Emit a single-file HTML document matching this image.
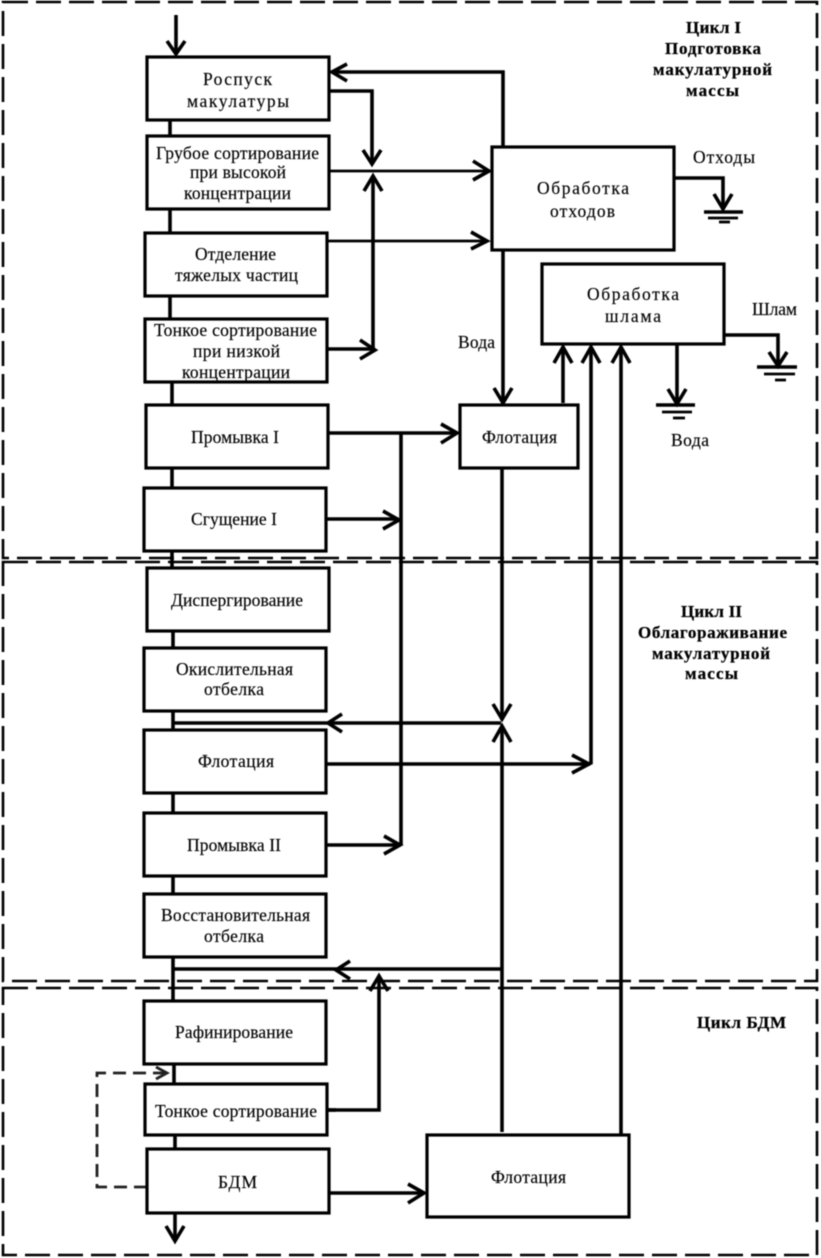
<!DOCTYPE html>
<html lang="ru">
<head>
<meta charset="utf-8">
<title>Схема</title>
<style>
html,body{margin:0;padding:0;background:#fff}
svg{display:block;filter:blur(.45px)}
text{font-family:"Liberation Serif","DejaVu Serif",serif;font-size:17.5px;fill:#000;stroke:#000;stroke-width:.15}
.b{font-weight:bold;fill:#000;font-size:17px;stroke-width:.25}
.box{fill:#fff;stroke:#000;stroke-width:3.2}
.l{fill:none;stroke:#000;stroke-width:3.6}
.t{fill:none;stroke:#000;stroke-width:2.8}
.h{fill:none;stroke:#000;stroke-width:3.6}
.f{fill:none;stroke:#000;stroke-width:2.6;stroke-dasharray:25 8}
.d{fill:none;stroke:#222;stroke-width:2.8;stroke-dasharray:13 7}
</style>
</head>
<body>
<svg width="821" height="1258" viewBox="0 0 821 1258" xmlns="http://www.w3.org/2000/svg">
<rect width="821" height="1258" fill="#fff"/>

<!-- dashed frames -->
<path class="f" d="M3 2H817V558H3Z"/>
<path class="f" d="M3 562H817V981H3Z"/>
<path class="f" d="M3 988H817V1255H3Z"/>

<!-- main vertical line -->
<path class="l" d="M170 118V138M170 207V235M170 294V321M172 380V407M172 466V489M172 549V570M173 629V650M173 709V732M173 791V815M173 874V896M173 955V1003M174 1062V1086M175 1133V1151"/>

<!-- connectors -->
<path class="l" d="M176 15V54"/>
<path class="h" d="M167 41L176 54L185 41"/>

<path class="l" d="M503 147V72H333"/>
<path class="h" d="M347 64L332 72L347 81"/>

<path class="l" d="M329 91H372V163"/>
<path class="h" d="M363 150L372 164L381 150"/>
<path class="t" d="M329 171H488"/>
<path class="h" d="M473 161L489 171L473 180"/>
<path class="l" d="M373 178V349"/>
<path class="h" d="M364 191L373 176L382 191"/>
<path class="l" d="M327 349H375"/>
<path class="h" d="M360 340L375 350L360 359"/>
<path class="t" d="M327 241H486"/>
<path class="h" d="M471 232L487 241L471 249"/>

<path class="l" d="M674 178H723V209"/>
<path class="h" d="M714 194L723 209L732 194"/>
<path class="l" d="M704 212H743"/>
<path class="t" d="M708 218H738"/>
<path class="t" d="M719 222H730"/>

<path class="l" d="M503 250V402"/>
<path class="h" d="M494 388L503 403L512 388"/>

<path class="l" d="M563 403V348"/>
<path class="h" d="M554 363L563 347L572 363"/>
<path class="l" d="M591 764V348"/>
<path class="h" d="M582 363L591 347L600 363"/>
<path class="l" d="M621 1135V348"/>
<path class="h" d="M612 363L621 347L630 363"/>

<path class="l" d="M725 335H778V364"/>
<path class="h" d="M769 352L778 366L787 352"/>
<path class="l" d="M757 367H797"/>
<path class="t" d="M764 374H795"/>
<path class="t" d="M775 380H786"/>

<path class="l" d="M677 344V403"/>
<path class="h" d="M668 389L677 404L686 389"/>
<path class="l" d="M656 405H695"/>
<path class="t" d="M662 412H692"/>
<path class="t" d="M673 418H685"/>

<path class="l" d="M328 433H456"/>
<path class="h" d="M441 424L457 433L441 443"/>
<path class="l" d="M401 433V845"/>
<path class="l" d="M326 519H398"/>
<path class="h" d="M383 511L399 520L383 529"/>
<path class="l" d="M326 845H399"/>
<path class="h" d="M384 836L400 845L384 854"/>

<path class="l" d="M502 468V720"/>
<path class="h" d="M493 704L502 719L511 704"/>
<path class="l" d="M502 1132V726"/>
<path class="h" d="M493 742L502 726L511 742"/>
<path class="l" d="M501 723H174"/>
<path class="h" d="M342 714L328 723L342 732"/>
<path class="l" d="M326 764H590"/>
<path class="h" d="M572 755L589 764L572 773"/>

<path class="l" d="M502 969H174"/>
<path class="h" d="M350 961L336 970L350 979"/>
<path class="l" d="M327 1110H379V978"/>
<path class="h" d="M370 991L379 976L388 991"/>
<path class="l" d="M329 1193H424"/>
<path class="h" d="M408 1184L424 1193L408 1203"/>
<path class="l" d="M175 1213V1240"/>
<path class="h" d="M166 1226L175 1241L184 1226"/>

<!-- dashed feedback -->
<path class="d" d="M147 1187H97V1073H166"/>
<path class="t" style="stroke:#222" d="M156 1067L167 1073L156 1079"/>

<!-- boxes -->
<rect class="box" x="147" y="57" width="182" height="63"/>
<rect class="box" x="147" y="136" width="182" height="73"/>
<rect class="box" x="145" y="233" width="182" height="63"/>
<rect class="box" x="145" y="319" width="182" height="63"/>
<rect class="box" x="146" y="405" width="182" height="63"/>
<rect class="box" x="144" y="488" width="182" height="63"/>
<rect class="box" x="147" y="568" width="182" height="63"/>
<rect class="box" x="144" y="648" width="182" height="63"/>
<rect class="box" x="144" y="730" width="182" height="63"/>
<rect class="box" x="144" y="813" width="182" height="63"/>
<rect class="box" x="144" y="894" width="182" height="63"/>
<rect class="box" x="144" y="1001" width="182" height="63"/>
<rect class="box" x="145" y="1084" width="182" height="51"/>
<rect class="box" x="147" y="1149" width="182" height="64"/>
<rect class="box" x="427" y="1135" width="202" height="82"/>
<rect class="box" x="492" y="147" width="182" height="103"/>
<rect class="box" x="542" y="264" width="182" height="80"/>
<rect class="box" x="460" y="405" width="118" height="63"/>

<path class="l" d="M327 1110H336"/>

<!-- labels -->
<text x="203" y="85" textLength="69" lengthAdjust="spacing">Роспуск</text>
<text x="187" y="107" textLength="102" lengthAdjust="spacing">макулатуры</text>
<text x="156" y="159" textLength="163" lengthAdjust="spacing">Грубое сортирование</text>
<text x="190" y="178" textLength="96" lengthAdjust="spacing">при высокой</text>
<text x="184" y="199" textLength="107" lengthAdjust="spacing">концентрации</text>
<text x="195" y="260" textLength="81" lengthAdjust="spacing">Отделение</text>
<text x="175" y="281" textLength="123" lengthAdjust="spacing">тяжелых частиц</text>
<text x="154" y="336" textLength="163" lengthAdjust="spacing">Тонкое сортирование</text>
<text x="193" y="357" textLength="87" lengthAdjust="spacing">при низкой</text>
<text x="182" y="378" textLength="108" lengthAdjust="spacing">концентрации</text>
<text x="191" y="443" textLength="88" lengthAdjust="spacing">Промывка I</text>
<text x="191" y="525" textLength="86" lengthAdjust="spacing">Сгущение I</text>
<text x="171" y="606" textLength="132" lengthAdjust="spacing">Диспергирование</text>
<text x="176" y="675" textLength="117" lengthAdjust="spacing">Окислительная</text>
<text x="204" y="695" textLength="60" lengthAdjust="spacing">отбелка</text>
<text x="198" y="767" textLength="76" lengthAdjust="spacing">Флотация</text>
<text x="187" y="851" textLength="94" lengthAdjust="spacing">Промывка II</text>
<text x="161" y="921" textLength="149" lengthAdjust="spacing">Восстановительная</text>
<text x="204" y="942" textLength="60" lengthAdjust="spacing">отбелка</text>
<text x="175" y="1038" textLength="118" lengthAdjust="spacing">Рафинирование</text>
<text x="155" y="1117" textLength="162" lengthAdjust="spacing">Тонкое сортирование</text>
<text x="218" y="1188" textLength="39" lengthAdjust="spacing">БДМ</text>
<text x="491" y="1183" textLength="75" lengthAdjust="spacing">Флотация</text>
<text x="537" y="194" textLength="92" lengthAdjust="spacing">Обработка</text>
<text x="550" y="217" textLength="65" lengthAdjust="spacing">отходов</text>
<text x="587" y="300" textLength="92" lengthAdjust="spacing">Обработка</text>
<text x="605" y="322" textLength="56" lengthAdjust="spacing">шлама</text>
<text x="482" y="443" textLength="75" lengthAdjust="spacing">Флотация</text>
<text x="693" y="163" textLength="62" lengthAdjust="spacing">Отходы</text>
<text x="752" y="315" textLength="45" lengthAdjust="spacing">Шлам</text>
<text x="458" y="348" textLength="37" lengthAdjust="spacing">Вода</text>
<text x="671" y="446" textLength="38" lengthAdjust="spacing">Вода</text>

<text class="b" x="686" y="33" textLength="55" lengthAdjust="spacing">Цикл I</text>
<text class="b" x="665" y="54" textLength="96" lengthAdjust="spacing">Подготовка</text>
<text class="b" x="653" y="75" textLength="119" lengthAdjust="spacing">макулатурной</text>
<text class="b" x="686" y="96" textLength="53" lengthAdjust="spacing">массы</text>
<text class="b" x="681" y="617" textLength="61" lengthAdjust="spacing">Цикл II</text>
<text class="b" x="638" y="638" textLength="149" lengthAdjust="spacing">Облагораживание</text>
<text class="b" x="652" y="659" textLength="118" lengthAdjust="spacing">макулатурной</text>
<text class="b" x="685" y="679" textLength="53" lengthAdjust="spacing">массы</text>
<text class="b" x="697" y="1028" textLength="89" lengthAdjust="spacing">Цикл БДМ</text>
</svg>
</body>
</html>
